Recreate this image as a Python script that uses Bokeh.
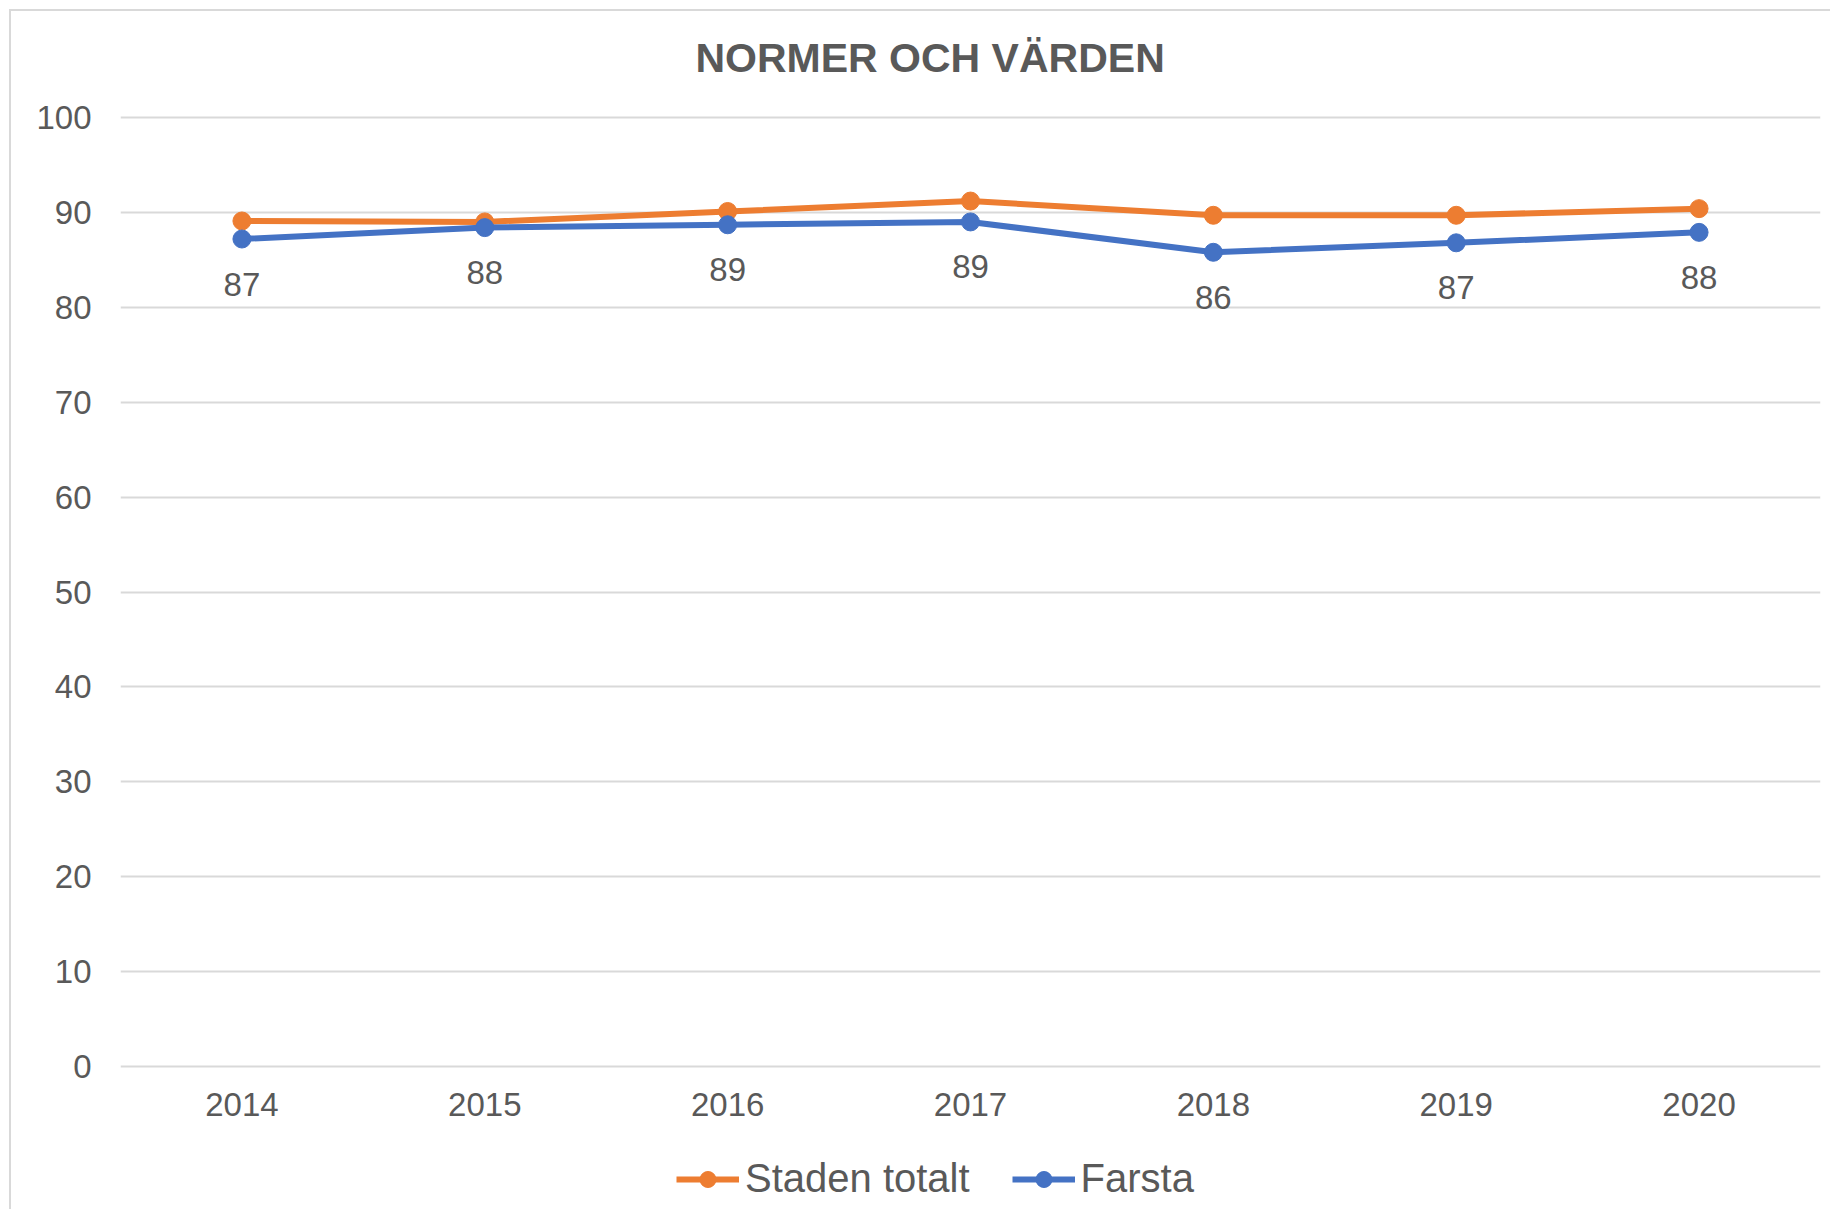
from bokeh.plotting import figure
from bokeh.models import Range1d, Legend, LegendItem, ColumnDataSource
from bokeh.core.properties import value
from bokeh.embed import file_html
from bokeh.resources import INLINE

years = ["2014", "2015", "2016", "2017", "2018", "2019", "2020"]
staden = [89.1, 89.0, 90.1, 91.2, 89.7, 89.7, 90.4]
farsta = [87.2, 88.4, 88.7, 89.0, 85.8, 86.8, 87.9]
farsta_labels = ["87", "88", "89", "89", "86", "87", "88"]
y_ticks = [0, 10, 20, 30, 40, 50, 60, 70, 80, 90, 100]

ORANGE = "#ED7D31"
BLUE = "#4472C4"
TXT = "#595959"
GRID = "#D9D9D9"
FONT = "Liberation Sans"

# frame extends a little above 100 and below 0 so the title sits high
# and the legend can be placed under the category labels
p = figure(frame_width=1700, frame_height=1105, x_range=years,
           y_range=Range1d(-14.75, 101.69),
           output_backend="svg", toolbar_location=None,
           min_border_left=109, min_border_right=10, min_border_top=90,
           min_border_bottom=3)
p.styles = {"border-left": "2px solid #D9D9D9", "border-top": "2px solid #D9D9D9",
            "margin-left": "9px", "margin-top": "9px"}
p.background_fill_color = "white"
p.border_fill_color = "white"
p.outline_line_color = None

p.title.text = "NORMER OCH VÄRDEN"
p.title.text_font = FONT
p.title.text_font_size = "41px"
p.title.text_font_style = "bold"
p.title.text_color = TXT
p.title.align = "left"
p.title.offset = 575
p.title.standoff = 42

src = ColumnDataSource(dict(x=years, s=staden, f=farsta, lab=farsta_labels))

l1 = p.line("x", "s", source=src, line_color=ORANGE, line_width=6)
m1 = p.scatter("x", "s", source=src, size=18, fill_color=ORANGE, line_color=ORANGE)
l2 = p.line("x", "f", source=src, line_color=BLUE, line_width=6)
m2 = p.scatter("x", "f", source=src, size=18, fill_color=BLUE, line_color=BLUE)

p.text("x", "f", text="lab", source=src, text_align="center", text_baseline="middle",
       y_offset=45, text_font=value(FONT), text_font_size="33px", text_color=TXT)

p.yaxis.ticker = y_ticks
p.yaxis.axis_line_color = None
p.yaxis.major_tick_line_color = None
p.yaxis.minor_tick_line_color = None
p.yaxis.major_tick_out = 0
p.yaxis.major_tick_in = 0
p.yaxis.major_label_standoff = 29
p.yaxis.major_label_text_font = FONT
p.yaxis.major_label_text_font_size = "33px"
p.yaxis.major_label_text_color = TXT

p.xaxis.fixed_location = 0
p.xaxis.axis_line_color = None
p.xaxis.major_tick_line_color = None
p.xaxis.minor_tick_line_color = None
p.xaxis.major_tick_out = 0
p.xaxis.major_tick_in = 0
p.xaxis.major_label_standoff = 26
p.xaxis.major_label_text_font = FONT
p.xaxis.major_label_text_font_size = "33px"
p.xaxis.major_label_text_color = TXT

p.xgrid.grid_line_color = None
p.ygrid.grid_line_color = GRID
p.ygrid.grid_line_width = 2

legend = Legend(items=[LegendItem(label="Staden totalt", renderers=[l1, m1]),
                       LegendItem(label="Farsta", renderers=[l2, m2])],
                orientation="horizontal", location=(556, 5),
                glyph_width=63, glyph_height=40, label_standoff=6, spacing=42,
                padding=0, margin=0, border_line_color=None,
                background_fill_alpha=0,
                label_text_font=FONT, label_text_font_size="40px",
                label_text_color=TXT)
p.add_layout(legend, "center")

open("out.html", "w").write(file_html(p, INLINE))
